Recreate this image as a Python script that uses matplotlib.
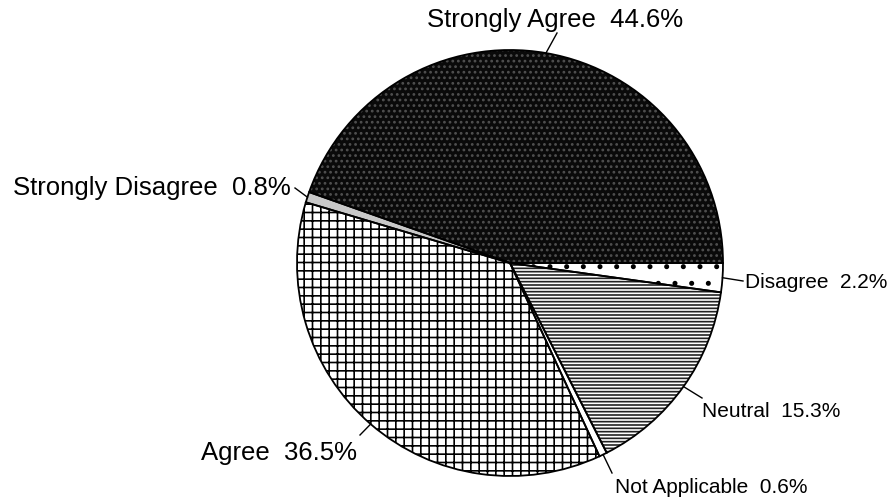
import matplotlib
matplotlib.use("Agg")
import matplotlib.pyplot as plt
import numpy as np

# slices in counter-clockwise order, starting at 3 o'clock
labels = ["Strongly Agree", "Strongly Disagree", "Agree", "Not Applicable",
          "Neutral", "Disagree"]
values = [44.6, 0.8, 36.5, 0.6, 15.3, 2.2]

face_colors = ["#0a0a0a", "#c8c8c8", "white", "white", "white", "white"]
hatch_colors = ["#505050", "#9a9a9a", "black", "black", "#222222", "black"]
hatches = ["...", "", "++", "", "-----", "."]

# label placement in image pixels (x, baseline y), alignment, font size
label_pos = [(427, 27), (13, 195), (357, 460), (615, 493), (702, 417), (745, 288)]
label_ha = ["left", "left", "right", "left", "left", "left"]
label_size = [18.5, 18.5, 18.5, 15, 15, 15]
# leader line end points (image pixels)
leader_end = [(557, 33), (295, 188), (360, 435), (612, 473), (702, 398), (743, 281)]

plt.rcParams["font.family"] = ["Liberation Sans", "DejaVu Sans"]
plt.rcParams["hatch.linewidth"] = 1.2

W, H = 894, 500
fig = plt.figure(figsize=(W / 100, H / 100), dpi=100)
cx, cy, r = 510, 263, 213
ax = fig.add_axes([(cx - r) / W, (H - cy - r) / H, 2 * r / W, 2 * r / H])

# fills and hatches
wedges, _ = ax.pie(values, startangle=0, counterclock=True, radius=1,
                   wedgeprops=dict(linewidth=0))
for w, fc, hc, h in zip(wedges, face_colors, hatch_colors, hatches):
    w.set_facecolor(fc)
    w.set_edgecolor(hc)
    w.set_hatch(h)

# black outlines on top
ax.pie(values, startangle=0, counterclock=True, radius=1,
       wedgeprops=dict(fill=False, edgecolor="black", linewidth=1.3))

ax.set_xlim(-1, 1)
ax.set_ylim(-1, 1)
ax.axis("off")

to_data = ax.transData.inverted()
for i, w in enumerate(wedges):
    ang = np.deg2rad((w.theta1 + w.theta2) / 2)
    x0, y0 = np.cos(ang), np.sin(ang)
    ex, ey = leader_end[i]
    x1, y1 = to_data.transform((ex, H - ey))
    ax.plot([x0, x1], [y0, y1], color="black", lw=1.0, clip_on=False)

    tx, ty = label_pos[i]
    fig.text(tx / W, (H - ty) / H, f"{labels[i]}  {values[i]}%",
             ha=label_ha[i], va="baseline", fontsize=label_size[i], color="black")

fig.savefig("out.png", dpi=100)
